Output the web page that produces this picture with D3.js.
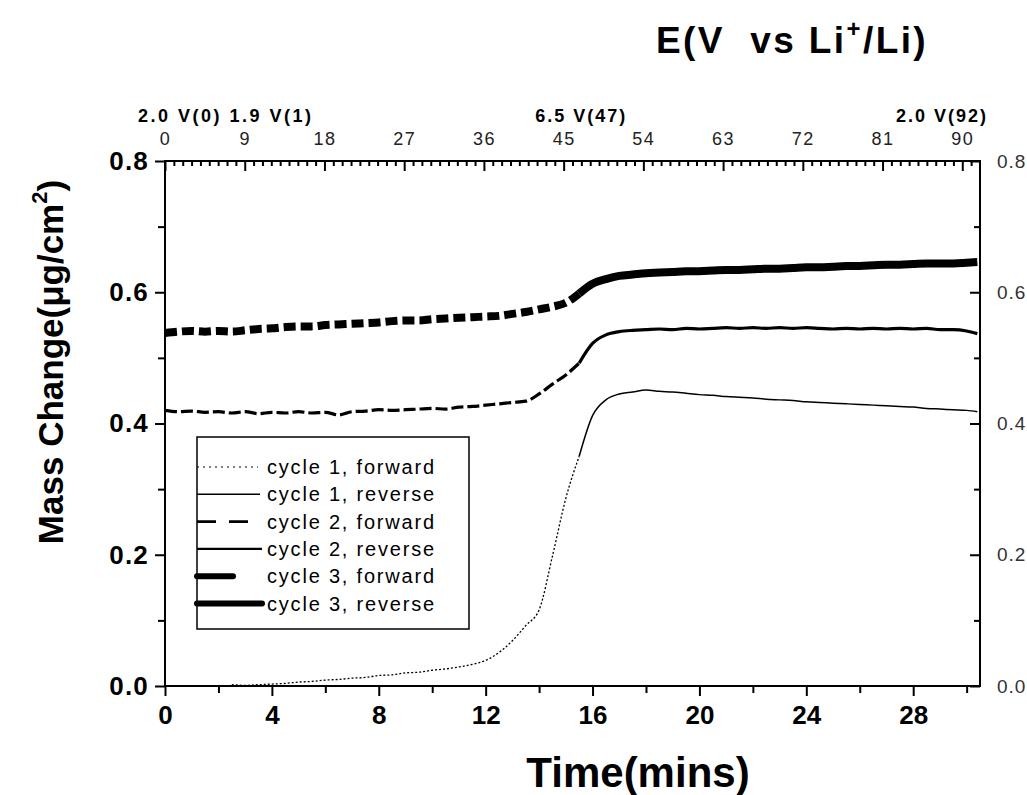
<!DOCTYPE html>
<html>
<head>
<meta charset="utf-8">
<script src="https://cdn.jsdelivr.net/npm/d3@7"></script>
<style>
  body { margin: 0; background: #fff; }
  svg { display: block; }
  text { font-family: "Liberation Sans", Arial, sans-serif; }
</style>
</head>
<body>
<script>
// Time points (mins) for the forward and the reverse half of each cycle
var timeFwd = [0, 0.5, 1, 1.5, 2, 2.5, 3, 3.5, 4, 4.5, 5, 5.5, 6, 6.5, 7, 7.5,
               8, 8.5, 9, 9.5, 10, 10.5, 11, 11.5, 12, 12.5, 13, 13.5, 14, 14.5, 15, 15.5];
var timeRev = [15.5, 16, 16.5, 17, 17.5, 18, 18.5, 19, 19.5, 20, 20.5, 21, 21.5, 22, 22.5,
               23, 23.5, 24, 24.5, 25, 25.5, 26, 26.5, 27, 27.5, 28, 28.5, 29, 29.5, 30, 30.4];

// Mass change (ug/cm2)
var c1Fwd = [null, null, null, null, null, 0.002, 0.001, 0.002, 0.003, 0.004, 0.006, 0.007,
             0.009, 0.010, 0.012, 0.013, 0.016, 0.017, 0.020, 0.021, 0.024, 0.026, 0.029, 0.033,
             0.039, 0.051, 0.069, 0.092, 0.116, 0.198, 0.286, 0.350];
var c1Rev = [0.350, 0.412, 0.436, 0.445, 0.448, 0.451, 0.449, 0.448, 0.446, 0.444, 0.443,
             0.441, 0.440, 0.439, 0.437, 0.436, 0.435, 0.433, 0.432, 0.431, 0.430, 0.429,
             0.428, 0.427, 0.426, 0.425, 0.423, 0.422, 0.421, 0.420, 0.418];
var c2Fwd = [0.420, 0.418, 0.419, 0.417, 0.418, 0.416, 0.418, 0.415, 0.417, 0.416, 0.418,
             0.416, 0.417, 0.413, 0.418, 0.419, 0.421, 0.420, 0.421, 0.422, 0.423, 0.422,
             0.425, 0.426, 0.428, 0.430, 0.432, 0.434, 0.445, 0.460, 0.474, 0.492];
var c2Rev = [0.492, 0.522, 0.535, 0.540, 0.542, 0.543, 0.544, 0.543, 0.545, 0.544, 0.545,
             0.546, 0.545, 0.546, 0.545, 0.546, 0.545, 0.546, 0.545, 0.544, 0.545, 0.544,
             0.545, 0.544, 0.545, 0.544, 0.545, 0.543, 0.543, 0.541, 0.537];
var c3Fwd = [0.538, 0.540, 0.541, 0.540, 0.541, 0.540, 0.542, 0.544, 0.545, 0.547, 0.548,
             0.548, 0.550, 0.551, 0.552, 0.553, 0.554, 0.556, 0.557, 0.557, 0.559, 0.560,
             0.561, 0.562, 0.563, 0.564, 0.567, 0.570, 0.574, 0.578, 0.584, 0.598];
var c3Rev = [0.598, 0.613, 0.620, 0.625, 0.627, 0.629, 0.630, 0.631, 0.632, 0.632, 0.633,
             0.634, 0.634, 0.635, 0.636, 0.636, 0.637, 0.638, 0.638, 0.639, 0.640, 0.640,
             0.641, 0.642, 0.642, 0.643, 0.644, 0.644, 0.644, 0.645, 0.646];

var seriesNames = ["cycle 1, forward", "cycle 1, reverse", "cycle 2, forward",
                   "cycle 2, reverse", "cycle 3, forward", "cycle 3, reverse"];

// Axis ticks
var bottomTicks = [0, 4, 8, 12, 16, 20, 24, 28];
var bottomMinor = [2, 6, 10, 14, 18, 22, 26, 30];
var topTicks = [0, 9, 18, 27, 36, 45, 54, 63, 72, 81, 90];
var yTicks = [0, 0.2, 0.4, 0.6, 0.8];
var yMinor = [0.1, 0.3, 0.5, 0.7];
var potentialNotes = ["2.0 V(0) 1.9 V(1)", "6.5 V(47)", "2.0 V(92)"];

//Width and height
var w = 1027;
var h = 795;
var plotL = 165, plotR = 980, plotT = 161, plotB = 686;

var svg = d3.select("body")
            .append("svg")
            .attr("width", w)
            .attr("height", h);

//Scales
var x = d3.scaleLinear().domain([0, 30.5]).range([plotL, plotR]);
var xTop = d3.scaleLinear().domain([0, 92]).range([plotL, plotR]);
var y = d3.scaleLinear().domain([0, 0.8]).range([plotB, plotT]);

//Curves
function pairs(ts, vs) {
    return ts.map(function(t, i) { return { t: t, v: vs[i] }; });
}

var line = d3.line()
             .defined(function(d) { return d.v != null; })
             .x(function(d) { return x(d.t); })
             .y(function(d) { return y(d.v); })
             .curve(d3.curveMonotoneX);

var styles = [
    { width: 1.3, dash: "2,2" },
    { width: 1.5, dash: null },
    { width: 3.2, dash: "12,4" },
    { width: 3.2, dash: null },
    { width: 8, dash: "12,5" },
    { width: 8, dash: null }
];

var curves = [
    pairs(timeFwd, c1Fwd), pairs(timeRev, c1Rev),
    pairs(timeFwd, c2Fwd), pairs(timeRev, c2Rev),
    pairs(timeFwd, c3Fwd), pairs(timeRev, c3Rev)
];

svg.append("g")
   .selectAll("path")
   .data(curves)
   .enter()
   .append("path")
   .attr("d", line)
   .attr("fill", "none")
   .attr("stroke", "#000")
   .attr("stroke-width", function(d, i) { return styles[i].width; })
   .attr("stroke-dasharray", function(d, i) { return styles[i].dash; });

//Axes
function styleAxis(g, fontSize, weight, fill, spacing) {
    g.select(".domain").remove();
    g.selectAll(".tick line").attr("stroke", "#000").attr("stroke-width", 2);
    g.selectAll(".tick text")
     .attr("font-size", fontSize)
     .attr("font-weight", weight)
     .attr("fill", fill)
     .attr("letter-spacing", spacing)
     .style("font-family", "'Liberation Sans', Arial, sans-serif");
}

svg.append("g")
   .attr("transform", "translate(0," + plotB + ")")
   .call(d3.axisBottom(x).tickValues(bottomTicks).tickFormat(d3.format("d"))
           .tickSize(10).tickPadding(10))
   .call(styleAxis, 26, "bold", "#000", 0);

svg.append("g")
   .attr("transform", "translate(0," + plotB + ")")
   .call(d3.axisBottom(x).tickValues(bottomMinor).tickFormat("").tickSize(7))
   .call(styleAxis, 10, "normal", "#000", 0);

svg.append("g")
   .attr("transform", "translate(" + plotL + ",0)")
   .call(d3.axisLeft(y).tickValues(yTicks).tickFormat(d3.format(".1f"))
           .tickSize(10).tickPadding(6))
   .call(styleAxis, 26, "bold", "#000", 1.2);

svg.append("g")
   .attr("transform", "translate(" + plotL + ",0)")
   .call(d3.axisLeft(y).tickValues(yMinor).tickFormat("").tickSize(7))
   .call(styleAxis, 10, "normal", "#000", 0);

svg.append("g")
   .attr("transform", "translate(0," + plotT + ")")
   .call(d3.axisTop(xTop).tickValues(topTicks).tickFormat(d3.format("d"))
           .tickSizeInner(-10).tickSizeOuter(0).tickPadding(16))
   .call(styleAxis, 18, "normal", "#222", 1.5);

svg.append("g")
   .attr("transform", "translate(0," + plotT + ")")
   .call(d3.axisTop(xTop).tickValues(d3.range(1, 92).filter(function(v) { return v % 9 != 0; }))
           .tickFormat("").tickSizeInner(-5).tickSizeOuter(0))
   .call(styleAxis, 10, "normal", "#000", 0);

svg.append("g")
   .attr("transform", "translate(" + plotR + ",0)")
   .call(d3.axisRight(y).tickValues(yTicks).tickFormat(d3.format(".1f"))
           .tickSizeInner(-10).tickSizeOuter(0).tickPadding(17))
   .call(styleAxis, 19, "normal", "#333", 1);

svg.append("g")
   .attr("transform", "translate(" + plotR + ",0)")
   .call(d3.axisRight(y).tickValues(yMinor).tickFormat("").tickSizeInner(-6).tickSizeOuter(0))
   .call(styleAxis, 10, "normal", "#000", 0);

//Frame
svg.append("rect")
   .attr("x", plotL)
   .attr("y", plotT)
   .attr("width", plotR - plotL)
   .attr("height", plotB - plotT)
   .attr("fill", "none")
   .attr("stroke", "#000")
   .attr("stroke-width", 2);

//Potential notes on the top axis
svg.append("text")
   .attr("x", 138).attr("y", 122)
   .attr("font-size", 18).attr("font-weight", "bold").attr("letter-spacing", 2.5)
   .text(potentialNotes[0]);

svg.append("text")
   .attr("x", xTop(47)).attr("y", 122)
   .attr("text-anchor", "middle")
   .attr("font-size", 18).attr("font-weight", "bold").attr("letter-spacing", 2)
   .text(potentialNotes[1]);

svg.append("text")
   .attr("x", 988).attr("y", 122)
   .attr("text-anchor", "end")
   .attr("font-size", 18).attr("font-weight", "bold").attr("letter-spacing", 2)
   .text(potentialNotes[2]);

//Titles
var title = svg.append("text")
   .attr("x", 656).attr("y", 53)
   .attr("font-size", 37).attr("font-weight", "bold")
   .attr("letter-spacing", 2.4)
   .style("white-space", "pre");
title.append("tspan").text("E(V  vs Li");
title.append("tspan").attr("font-size", 24).attr("dy", -16).text("+");
title.append("tspan").attr("dy", 16).text("/Li)");

svg.append("text")
   .attr("x", 638).attr("y", 787)
   .attr("text-anchor", "middle")
   .attr("font-size", 42).attr("font-weight", "bold")
   .text("Time(mins)");

var ylab = svg.append("text")
   .attr("transform", "translate(63,362) rotate(-90)")
   .attr("text-anchor", "middle")
   .attr("font-size", 35).attr("font-weight", "bold");
ylab.append("tspan").text("Mass Change(\u03bcg/cm");
ylab.append("tspan").attr("font-size", 22).attr("dy", -16).text("2");
ylab.append("tspan").attr("dy", 16).text(")");

//Legend
var legend = svg.append("g").attr("class", "legend");

legend.append("rect")
      .attr("x", 197).attr("y", 437)
      .attr("width", 272).attr("height", 192)
      .attr("fill", "#fff")
      .attr("stroke", "#000")
      .attr("stroke-width", 1.5);

var legendDash = ["2,4", null, "19,13", null, null, null];
var legendEnd = [258, 260, 260, 262, 233, 262];
var legendWidth = [1.2, 1.4, 2.6, 2.2, 6, 6];

var rows = legend.selectAll("g.row")
      .data(seriesNames)
      .enter()
      .append("g")
      .attr("class", "row")
      .attr("transform", function(d, i) { return "translate(0," + (467 + i * 27.3) + ")"; });

rows.append("line")
    .attr("x1", 197)
    .attr("x2", function(d, i) { return legendEnd[i]; })
    .attr("stroke", "#000")
    .attr("stroke-width", function(d, i) { return legendWidth[i]; })
    .attr("stroke-dasharray", function(d, i) { return legendDash[i]; })
    .attr("stroke-linecap", function(d, i) { return i >= 4 ? "round" : "butt"; });

rows.append("text")
    .attr("x", 267)
    .attr("y", 7)
    .attr("font-size", 20)
    .attr("letter-spacing", 1.8)
    .text(function(d) { return d; });
</script>
</body>
</html>
